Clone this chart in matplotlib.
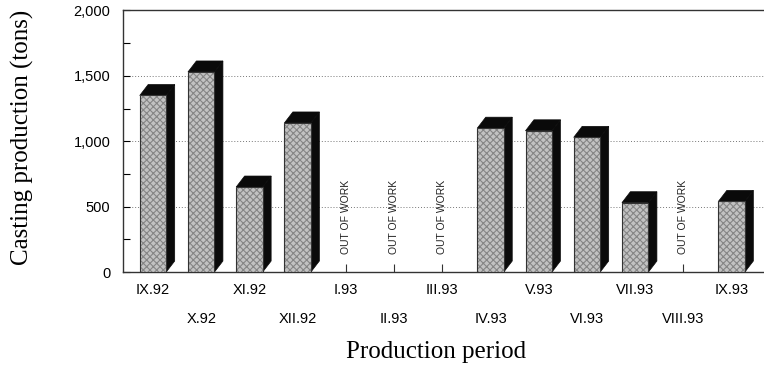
import numpy as np
import matplotlib
matplotlib.use("Agg")
import matplotlib.pyplot as plt
from matplotlib.patches import Polygon
from matplotlib.ticker import MultipleLocator, FuncFormatter

periods = ['IX.92', 'X.92', 'XI.92', 'XII.92', 'I.93', 'II.93', 'III.93',
           'IV.93', 'V.93', 'VI.93', 'VII.93', 'VIII.93', 'IX.93']
tons = [1350, 1530, 650, 1140, np.nan, np.nan, np.nan,
        1100, 1080, 1030, 530, np.nan, 540]
idle_label = 'OUT OF WORK'

sans = ['Liberation Sans', 'DejaVu Sans']
serif = ['Liberation Serif', 'DejaVu Serif']
plt.rcParams['font.family'] = sans
plt.rcParams['hatch.linewidth'] = 0.8

bar_w = 0.55        # front face width (x units)
depth_x = 0.175     # 3d offset, x units
depth_y = 84        # 3d offset, y units

fig = plt.figure(figsize=(7.64, 3.72), dpi=100)
ax = fig.add_axes([0.161, 0.2688, 0.8385, 0.7030])

x = np.arange(len(periods))
vals = np.array(tons, dtype=float)

for xi, v in zip(x, vals):
    if np.isnan(v):
        ax.text(xi, 140, idle_label, rotation=90, ha='center', va='bottom',
                fontsize=7.5, color='#222222')
        continue
    left, right = xi - bar_w / 2, xi + bar_w / 2
    # black side and top of the block
    side = Polygon([(right, 0), (right + depth_x, depth_y),
                    (right + depth_x, v + depth_y), (right, v)],
                   closed=True, facecolor='#0a0a0a', edgecolor='#0a0a0a', lw=0.5, zorder=2)
    top = Polygon([(left, v), (left + depth_x, v + depth_y),
                   (right + depth_x, v + depth_y), (right, v)],
                  closed=True, facecolor='#0a0a0a', edgecolor='#0a0a0a', lw=0.5, zorder=2)
    ax.add_patch(side)
    ax.add_patch(top)

# checkered front faces
ax.bar(x, vals, width=bar_w, color='#c2c2c2', hatch='xxxxx',
       edgecolor='#858585', linewidth=0, zorder=3)
ax.bar(x, vals, width=bar_w, color='none', edgecolor='#333333',
       linewidth=0.8, zorder=4)

ax.set_xlim(-0.622, 12.663)
ax.set_ylim(0, 2000)

# y axis
ax.yaxis.set_major_locator(MultipleLocator(500))
ax.yaxis.set_minor_locator(MultipleLocator(250))
ax.yaxis.set_major_formatter(FuncFormatter(lambda v, p: f'{int(v):,}'))
ax.tick_params(axis='y', which='both', direction='in', length=5, width=0.8,
               labelsize=10.5, pad=9)
for g in (500, 1000, 1500):
    ax.axhline(g, color='#777777', lw=0.7, ls=(0, (1, 2)), zorder=1)

# x axis: labels in two staggered rows
ax.set_xticks(x[0::2])
ax.set_xticklabels(periods[0::2])
ax.set_xticks(x[1::2], minor=True)
ax.set_xticklabels(periods[1::2], minor=True)
ax.tick_params(axis='x', which='both', direction='in', length=6, width=0.8,
               labelsize=10.5, color='#333333')
ax.tick_params(axis='x', which='major', pad=8)
ax.tick_params(axis='x', which='minor', pad=29)
for t in ax.xaxis.get_major_ticks() + ax.xaxis.get_minor_ticks():
    t.tick1line.set_zorder(5)

for s in ('left', 'bottom', 'top'):
    ax.spines[s].set_linewidth(1.0)
    ax.spines[s].set_color('#333333')
ax.spines['right'].set_visible(False)

ax.set_ylabel('Casting production (tons)', family=serif, fontsize=18, va='center')
ax.yaxis.set_label_coords(-0.1576, 0.513)
ax.set_xlabel('Production period', family=serif, fontsize=18, va='center')
ax.xaxis.set_label_coords(0.488, -0.306)

fig.savefig('out.png', dpi=100)
